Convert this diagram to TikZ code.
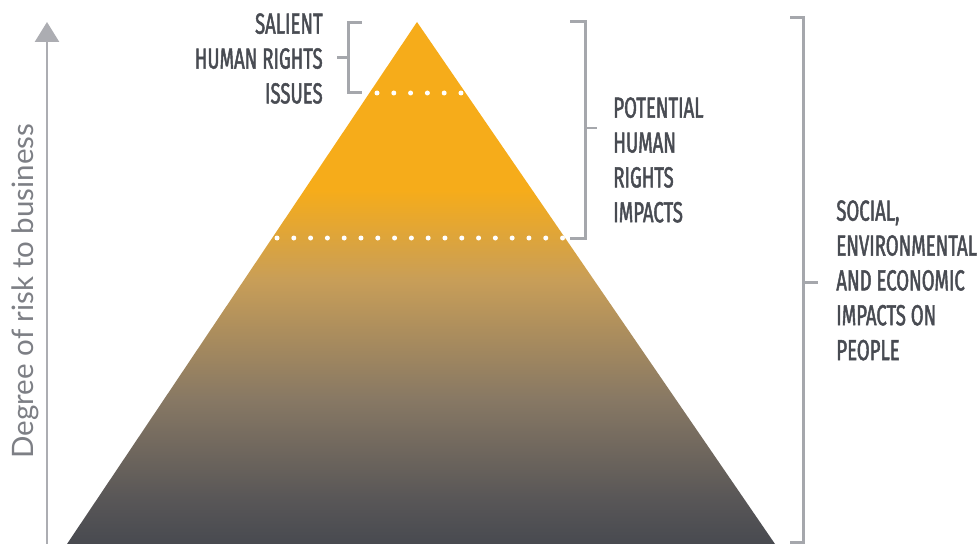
\documentclass[tikz,border=0pt]{standalone}
\usepackage{fontspec}
\usepackage{xcolor}
\usepackage{tikz}
\usetikzlibrary{arrows.meta}

\newfontfamily\capsfont[FakeStretch=0.64,FakeBold=1.6]{Fira Sans}
\newfontfamily\axisfont{Lato}

\definecolor{txtgrey}{RGB}{72,75,82}
\definecolor{bracegrey}{RGB}{165,167,172}
\definecolor{arrowgrey}{RGB}{172,173,178}
\definecolor{axisgrey}{RGB}{125,127,133}
\definecolor{pdark}{RGB}{72,74,80}
\definecolor{plow}{RGB}{88,86,87}
\definecolor{pmid}{RGB}{135,120,100}
\definecolor{ptan}{RGB}{200,158,88}
\definecolor{porange}{RGB}{246,172,26}

\pgfdeclareverticalshading{pyramidfade}{100bp}{color(0bp)=(pdark); color(25bp)=(pdark);
  color(29.2bp)=(plow); color(38.8bp)=(pmid); color(50.3bp)=(ptan);
  color(58.9bp)=(porange); color(75bp)=(porange); color(100bp)=(porange)}

\begin{document}
\begin{tikzpicture}[x=0.02cm,y=-0.02cm]
        \tikzstyle{capstext} = [inner sep=0pt, text=txtgrey, font=\capsfont\fontsize{16.5}{19.84}\selectfont]
        \tikzstyle{brace} = [draw=bracegrey, line width=0.06cm]
        \tikzstyle{dots} = [draw=white, line width=0.1cm, line cap=round, dash pattern=on 0pt off 0.336cm]

        \useasboundingbox (0,0) rectangle (980,544);

        % pyramid
        \coordinate (apex) at (417,22);
        \coordinate (bl) at (67,544);
        \coordinate (br) at (775,544);
        \shade[shading=pyramidfade] (apex) -- (bl) -- (br) -- cycle;

        % dotted bands
        \coordinate (d1l) at (377,93);
        \coordinate (d1r) at (461,93);
        \coordinate (d2l) at (277,238);
        \coordinate (d2r) at (563,238);
        \draw[dots] (d1l) -- (d1r);
        \draw[dots] (d2l) -- (d2r);

        % risk axis
        \coordinate (ybot) at (47,544);
        \coordinate (ytop) at (47,22);
        \draw[arrowgrey, line width=0.055cm, -{Triangle[width=0.48cm,length=0.4cm]}] (ybot) -- (ytop);
        \node[rotate=90, anchor=base, inner sep=0pt, text=axisgrey, font=\axisfont\fontsize{16.8}{20}\selectfont] (axis) at (33,291) {Degree of risk to business};

        % brackets
        \draw[brace] (362,23) -- (348,23) -- (348,93) -- (362,93);
        \draw[brace] (337,58) -- (348,58);
        \draw[brace] (570,22) -- (585,22) -- (585,238) -- (570,238);
        \draw[brace] (585,128) -- (597,128);
        \draw[brace] (790,18) -- (803,18) -- (803,542) -- (790,542);
        \draw[brace] (803,282) -- (818,282);

        % labels
        \node[capstext, anchor=north east, align=right] (salient) at (323,13) {SALIENT\\HUMAN RIGHTS\\ISSUES};
        \node[capstext, anchor=north west, align=left] (potential) at (613,97) {POTENTIAL\\HUMAN\\RIGHTS\\IMPACTS};
        \node[capstext, anchor=north west, align=left] (social) at (836,200) {SOCIAL,\\ENVIRONMENTAL\\AND ECONOMIC\\IMPACTS ON\\PEOPLE};
\end{tikzpicture}
\end{document}
